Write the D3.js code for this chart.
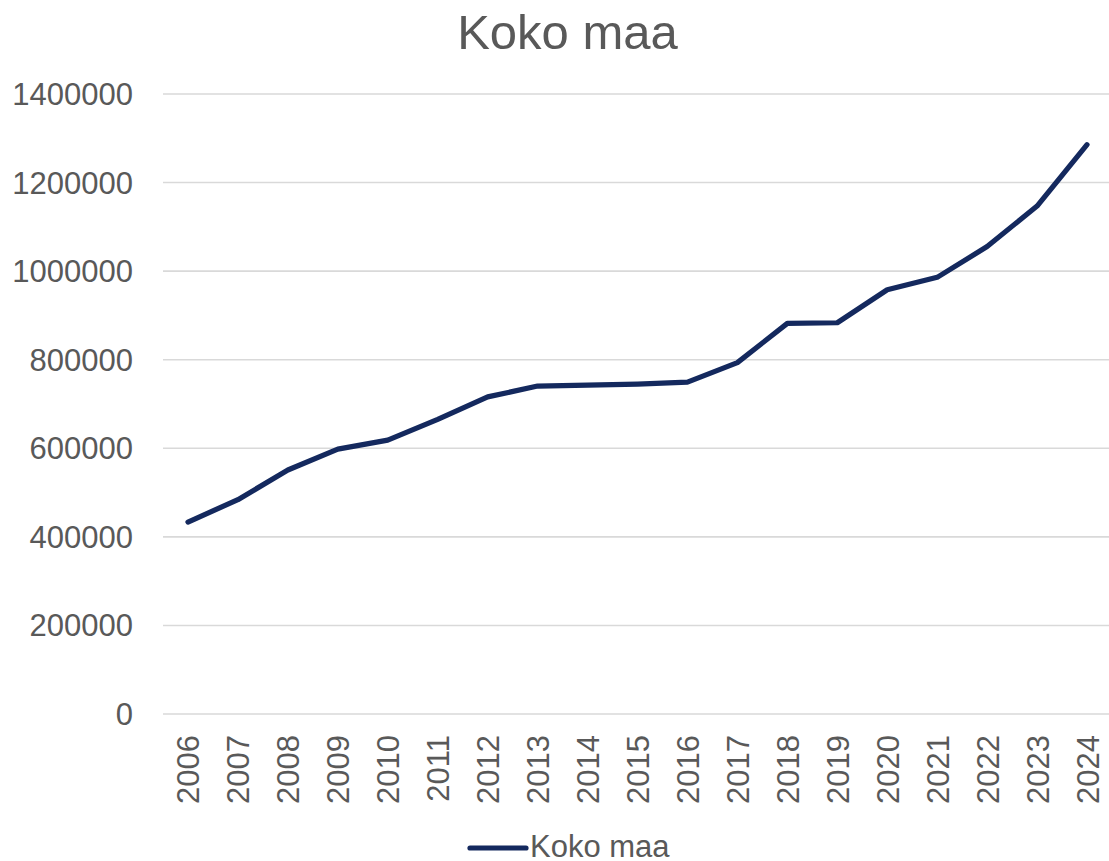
<!DOCTYPE html>
<html>
<head>
<meta charset="utf-8">
<script src="https://cdn.jsdelivr.net/npm/d3@7"></script>
<style>
  html, body { margin: 0; padding: 0; background: #ffffff; }
  svg { display: block; font-family: "Liberation Sans", Arial, sans-serif; }
</style>
</head>
<body>
<svg id="chart" width="1109" height="861"></svg>
<script>
const years = ["2006","2007","2008","2009","2010","2011","2012","2013","2014","2015","2016","2017","2018","2019","2020","2021","2022","2023","2024"];
const values = [433500, 484000, 551000, 598000, 618500, 665500, 716000, 740500, 742500, 745000, 749500, 793500, 882000, 883500, 958000, 986000, 1055500, 1147000, 1285500];
const yTicks = [0, 200000, 400000, 600000, 800000, 1000000, 1200000, 1400000];
const seriesName = "Koko maa";
const titleText = "Koko maa";

const svg = d3.select("#chart");
const W = 1109, H = 861;
const margin = { left: 163, right: -3, top: 94, bottom: 147 };
const x = d3.scaleBand().domain(years).range([margin.left, W - margin.right]);
const y = d3.scaleLinear().domain([0, 1400000]).range([H - margin.bottom, margin.top]);

const textColor = "#595959";
const lineColor = "#14295e";

// Gridlines
svg.append("g")
  .selectAll("line")
  .data(yTicks)
  .join("line")
  .attr("x1", margin.left)
  .attr("x2", W - margin.right)
  .attr("y1", d => y(d))
  .attr("y2", d => y(d))
  .attr("stroke", "#d9d9d9")
  .attr("stroke-width", 1.6);

// Y axis labels
const yAxis = d3.axisLeft(y).tickValues(yTicks).tickFormat(d => String(d)).tickSize(0).tickPadding(30);
const gy = svg.append("g").attr("transform", `translate(${margin.left},0)`).call(yAxis);
gy.select(".domain").remove();
gy.selectAll("text")
  .attr("fill", textColor)
  .style("font-size", "31px")
  .attr("dy", "0.34em");

// X axis labels
const xAxis = d3.axisBottom(x).tickSize(0).tickPadding(0);
const gx = svg.append("g").attr("transform", `translate(0,${H - margin.bottom})`).call(xAxis);
gx.select(".domain").remove();
gx.selectAll("text")
  .attr("fill", textColor)
  .style("font-size", "31px")
  .attr("text-anchor", "end")
  .attr("transform", "rotate(-90)")
  .attr("x", -21)
  .attr("y", 0)
  .attr("dy", "0.37em");

// Line
const line = d3.line()
  .x((d, i) => x(years[i]) + x.bandwidth() / 2)
  .y(d => y(d));
svg.append("path")
  .datum(values)
  .attr("d", line)
  .attr("fill", "none")
  .attr("stroke", lineColor)
  .attr("stroke-width", 5.2)
  .attr("stroke-linejoin", "round")
  .attr("stroke-linecap", "round");

// Title
svg.append("text")
  .attr("x", 567.5)
  .attr("y", 49)
  .attr("text-anchor", "middle")
  .attr("fill", textColor)
  .style("font-size", "49px")
  .text(titleText);

// Legend
const lg = svg.append("g");
lg.append("line")
  .attr("x1", 470).attr("x2", 526)
  .attr("y1", 848).attr("y2", 848)
  .attr("stroke", lineColor)
  .attr("stroke-width", 5.2)
  .attr("stroke-linecap", "round");
lg.append("text")
  .attr("x", 530)
  .attr("y", 857)
  .attr("fill", textColor)
  .style("font-size", "31px")
  .text(seriesName);
</script>
</body>
</html>
